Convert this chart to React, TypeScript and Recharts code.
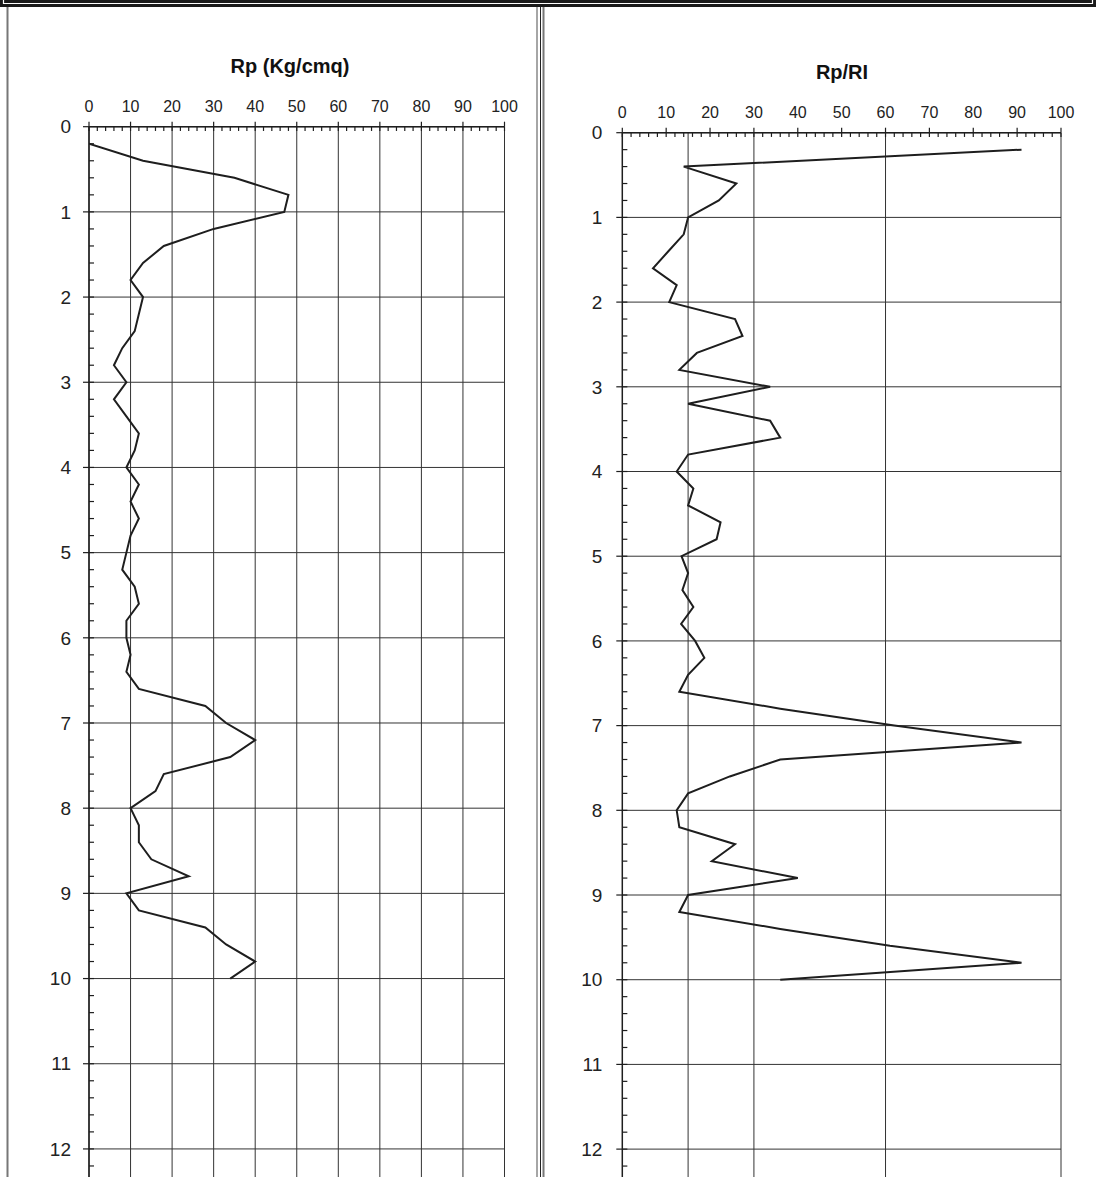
import React from 'react';
import { ScatterChart, Scatter, XAxis, YAxis, CartesianGrid, ReferenceLine } from 'recharts';

// Depth (m) of each reading
const depths = [
  0.2, 0.4, 0.6, 0.8, 1.0, 1.2, 1.4, 1.6, 1.8, 2.0,
  2.2, 2.4, 2.6, 2.8, 3.0, 3.2, 3.4, 3.6, 3.8, 4.0,
  4.2, 4.4, 4.6, 4.8, 5.0, 5.2, 5.4, 5.6, 5.8, 6.0,
  6.2, 6.4, 6.6, 6.8, 7.0, 7.2, 7.4, 7.6, 7.8, 8.0,
  8.2, 8.4, 8.6, 8.8, 9.0, 9.2, 9.4, 9.6, 9.8, 10.0,
];

// Rp (Kg/cmq)
const rpValues = [
  0, 13, 35, 48, 47, 30, 18, 13, 10, 13,
  12, 11, 8, 6, 9, 6, 9, 12, 11, 9,
  12, 10, 12, 10, 9, 8, 11, 12, 9, 9,
  10, 9, 12, 28, 33, 40, 34, 18, 16, 10,
  12, 12, 15, 24, 9, 12, 28, 33, 40, 34,
];

// Rp/Rl
const rpRlValues = [
  91, 14, 26, 22, 15, 14, 10.5, 7, 12.4, 10.7,
  25.7, 27.4, 17, 13, 33.7, 15, 33.7, 36, 15, 12.4,
  16.2, 15, 22.4, 21.5, 13.5, 15, 13.7, 16.2, 13.4, 16.6,
  18.7, 15, 13, 36, 62, 91, 36, 24.5, 15, 12.4,
  13, 25.7, 20.4, 40, 15, 13, 36, 61, 91, 36,
];

const xTicks = [0, 10, 20, 30, 40, 50, 60, 70, 80, 90, 100];
const yTicks = [0, 1, 2, 3, 4, 5, 6, 7, 8, 9, 10, 11, 12];
const ratioGridLines = [15, 30, 60, 100];
const panelTitles = ['Rp (Kg/cmq)', 'Rp/RI'];

const xMinorTicks = Array.from({ length: 51 }, (_, i) => i * 2);
const yMinorTicks = Array.from({ length: 61 }, (_, i) => Math.round((i + 1) * 2) / 10);

const rpData = depths.map((d, i) => ({ d, v: rpValues[i] }));
const ratioData = depths.map((d, i) => ({ d, v: rpRlValues[i] }));

const FONT = '"Liberation Sans", Arial, Helvetica, sans-serif';
const INK = '#1e1e1e';
const GRID = '#333';

type PanelProps = {
  data: { d: number; v: number }[];
  width: number;
  height: number;
  margin: { top: number; right: number; left: number; bottom: number };
  fullGrid: boolean;
  topTickDepth: number;
  leftTickLen: number;
  yTickMargin: number;
};

function Panel({ data, width, height, margin, fullGrid, topTickDepth, leftTickLen, yTickMargin }: PanelProps) {
  return (
    <ScatterChart width={width} height={height} margin={margin}>
      <CartesianGrid stroke={GRID} strokeWidth={1} vertical={fullGrid} horizontal={true} />
      <XAxis
        type="number"
        dataKey="v"
        orientation="top"
        domain={[0, 100]}
        ticks={xTicks}
        interval={0}
        height={30}
        tickSize={5}
        tickMargin={10}
        axisLine={{ stroke: INK, strokeWidth: 1.5 }}
        tickLine={{ stroke: INK, strokeWidth: 1.2 }}
        tick={{ fill: '#222', fontSize: 16, fontFamily: FONT }}
        allowDataOverflow
      />
      <YAxis
        type="number"
        dataKey="d"
        reversed
        domain={[0, 12.4]}
        ticks={yTicks}
        interval={0}
        width={60}
        tickSize={6}
        tickMargin={yTickMargin}
        axisLine={{ stroke: INK, strokeWidth: 1.5 }}
        tickLine={{ stroke: INK, strokeWidth: 1.2 }}
        tick={{ fill: '#222', fontSize: 19, fontFamily: FONT }}
        allowDataOverflow
      />
      {!fullGrid &&
        ratioGridLines.map((x) => (
          <ReferenceLine key={'g' + x} x={x} stroke={GRID} strokeWidth={1} ifOverflow="visible" />
        ))}
      {xMinorTicks.map((t) => (
        <ReferenceLine
          key={'xm' + t}
          segment={[{ x: t, y: 0 }, { x: t, y: topTickDepth }]}
          stroke={INK}
          strokeWidth={1.2}
          ifOverflow="visible"
        />
      ))}
      {yMinorTicks.map((t) => (
        <ReferenceLine
          key={'ym' + t}
          segment={[{ x: 0, y: t }, { x: leftTickLen, y: t }]}
          stroke={INK}
          strokeWidth={1.2}
          ifOverflow="visible"
        />
      ))}
      <Scatter
        data={data}
        fill={INK}
        line={{ stroke: INK, strokeWidth: 2 }}
        shape={() => <g />}
        isAnimationActive={false}
      />
    </ScatterChart>
  );
}

export default function App() {
  return (
    <div
      style={{
        position: 'absolute',
        left: 0,
        top: 0,
        width: 1096,
        height: 1177,
        overflow: 'hidden',
        background: '#fff',
        fontFamily: FONT,
      }}
    >
      <div style={{ position: 'absolute', left: 0, top: 0 }}>
        <Panel
          data={rpData}
          width={540}
          height={1183}
          margin={{ top: 96.7, right: 35.5, left: 29, bottom: 0 }}
          fullGrid={true}
          topTickDepth={0.05}
          leftTickLen={1.2}
          yTickMargin={12}
        />
      </div>
      <div style={{ position: 'absolute', left: 540, top: 0 }}>
        <Panel
          data={ratioData}
          width={556}
          height={1183}
          margin={{ top: 102.7, right: 35, left: 22.3, bottom: 0 }}
          fullGrid={false}
          topTickDepth={0.05}
          leftTickLen={1.15}
          yTickMargin={14}
        />
      </div>
      <svg
        width={1096}
        height={1177}
        style={{ position: 'absolute', left: 0, top: 0, pointerEvents: 'none' }}
      >
        <rect x={0} y={0} width={1096} height={7} fill="#1a1a1a" />
        <path d="M3.5 0 V3.5 H1092.5 V0" fill="none" stroke="#fff" strokeWidth={1.2} />
        <line x1={7.5} y1={7} x2={7.5} y2={1177} stroke="#777" strokeWidth={2} />
        <line x1={537} y1={7} x2={537} y2={1177} stroke="#888" strokeWidth={1.5} />
        <line x1={540.5} y1={7} x2={540.5} y2={1177} stroke="#222" strokeWidth={1} />
        <line x1={543.5} y1={7} x2={543.5} y2={1177} stroke="#777" strokeWidth={2} />
        <text x={290} y={73} textAnchor="middle" fontFamily={FONT} fontWeight="bold" fontSize={20} fill="#111">
          {panelTitles[0]}
        </text>
        <text x={842} y={79} textAnchor="middle" fontFamily={FONT} fontWeight="bold" fontSize={20} fill="#111">
          {panelTitles[1]}
        </text>
      </svg>
    </div>
  );
}
